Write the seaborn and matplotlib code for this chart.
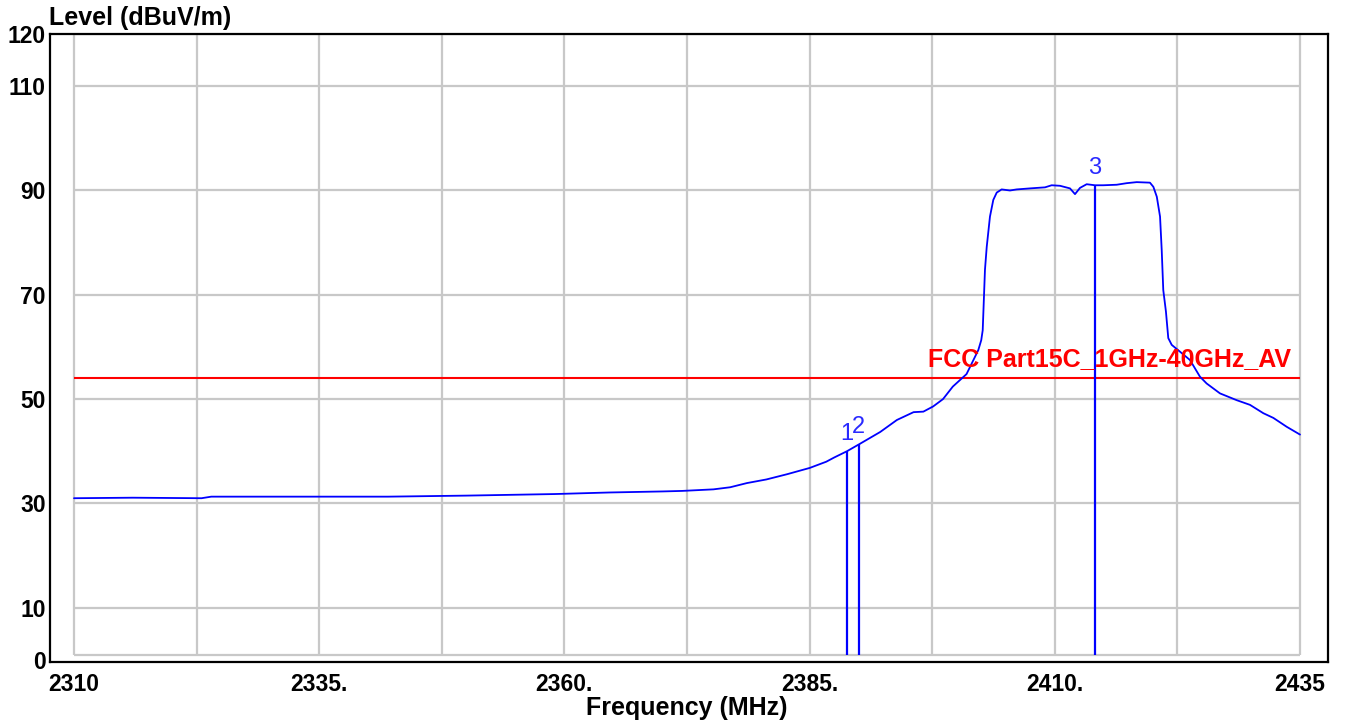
import matplotlib
matplotlib.use("Agg")
import matplotlib.pyplot as plt
import seaborn as sns
import pandas as pd

# trace
freq = [2310, 2316, 2323, 2324, 2330, 2342, 2350, 2359, 2364.6, 2370, 2372,
        2375.2, 2376.9, 2378.6, 2380.6, 2382.7, 2385.0, 2386.7, 2387.5, 2388.8,
        2390.1, 2392.2, 2393.9, 2395.6, 2396.6, 2397.6, 2398.6, 2399.6, 2400.3,
        2401.0, 2402.2, 2402.5, 2402.65, 2402.88, 2403.06, 2403.39, 2403.73,
        2404.08, 2404.58, 2405.43, 2406.11, 2407.47, 2409.0, 2409.68, 2410.53,
        2411.55, 2412.06, 2412.57, 2413.25, 2414.1, 2414.95, 2416.31, 2417.33,
        2418.35, 2419.7, 2420.05, 2420.4, 2420.73, 2420.9, 2421.06, 2421.33,
        2421.57, 2421.92, 2422.76, 2423.78, 2424.8, 2425.48, 2426.84, 2428.54,
        2429.9, 2431.26, 2432.28, 2433.64, 2435]
level = [31.0, 31.1, 31.0, 31.3, 31.3, 31.3, 31.5, 31.8, 32.1, 32.3, 32.4,
         32.7, 33.1, 33.9, 34.6, 35.6, 36.8, 38.0, 38.8, 40.0,
         41.4, 43.7, 46.0, 47.5, 47.6, 48.6, 50.0, 52.4, 53.6,
         54.8, 59.4, 61.3, 63.2, 74.8, 79.2, 85.0, 88.2,
         89.6, 90.2, 90.0, 90.2, 90.4, 90.6, 91.0, 90.9,
         90.4, 89.3, 90.5, 91.2, 91.0, 91.0, 91.1, 91.4,
         91.6, 91.5, 90.7, 88.8, 85.0, 78.6, 70.9, 66.8,
         61.7, 60.4, 59.1, 57.5, 54.3, 53.0, 51.1, 49.8,
         48.9, 47.3, 46.4, 44.7, 43.2]

marker_freq = [2388.8, 2390.0, 2414.1]
marker_level = [40.0, 41.3, 91.0]
marker_names = ["1", "2", "3"]

limit_level = 54.0
limit_name = "FCC Part15C_1GHz-40GHz_AV"

x_ticks = [2310, 2335, 2360, 2385, 2410, 2435]
x_ticklabels = ["2310", "2335.", "2360.", "2385.", "2410.", "2435"]
y_ticks = [0, 10, 30, 50, 70, 90, 110, 120]
x_grid = [2310 + 12.5 * i for i in range(11)]
y_grid = [10, 30, 50, 70, 90, 110, 120]
grid_floor = 1.0

sns.set_style("white")
plt.rcParams["font.family"] = ["Liberation Sans", "DejaVu Sans"]

fig = plt.figure(figsize=(13.46, 7.24), dpi=100)
ax = fig.add_axes([50 / 1346, 1 - 662 / 724, 1278 / 1346, 628 / 724])

# grid only covers the data area, not the whole frame
gc = "#c8c8c8"
ax.vlines(x_grid, grid_floor, 120, color=gc, lw=1.6, zorder=1)
ax.hlines(y_grid + [grid_floor], 2310, 2435, color=gc, lw=1.6, zorder=1)

df = pd.DataFrame({"Frequency": freq, "Level": level})
sns.lineplot(data=df, x="Frequency", y="Level", color="#0000ff", lw=1.3, ax=ax, zorder=3)

ax.hlines(limit_level, 2310, 2435, color="#ff0000", lw=1.5, zorder=2)
ax.text(2434.1, limit_level + 1.3, limit_name, color="#ff0000", fontsize=18,
        fontweight="bold", ha="right", va="bottom", zorder=4)

ax.vlines(marker_freq, grid_floor, marker_level, color="#0000ff", lw=1.6, zorder=3)
for f, lv, name in zip(marker_freq, marker_level, marker_names):
    ax.text(f, lv + 1.2, name, color="#2a2aff", fontsize=17, ha="center", va="bottom")

ax.set_xlim(2310 - 24 / 9.808, 2435 + 28 / 9.808)
ax.set_ylim(-0.4, 120)
ax.set_xticks(x_ticks)
ax.set_xticklabels(x_ticklabels)
ax.set_yticks(y_ticks)
ax.tick_params(axis="x", length=0, pad=8, labelsize=16.5, labelcolor="black")
ax.tick_params(axis="y", length=0, pad=3, labelsize=16.5, labelcolor="black")
for lab in ax.get_xticklabels() + ax.get_yticklabels():
    lab.set_fontweight("bold")
ax.set_xlabel("")
ax.set_ylabel("")
for s in ax.spines.values():
    s.set_color("black")
    s.set_linewidth(1.6)

fig.text(49 / 1346, 1 - 18.5 / 724, "Level (dBuV/m)", fontsize=18, color="black",
         fontweight="bold", ha="left", va="center")
fig.text(687 / 1346, 1 - 708 / 724, "Frequency (MHz)", fontsize=18, color="black",
         fontweight="bold", ha="center", va="center")

fig.savefig("out.png", dpi=100)
